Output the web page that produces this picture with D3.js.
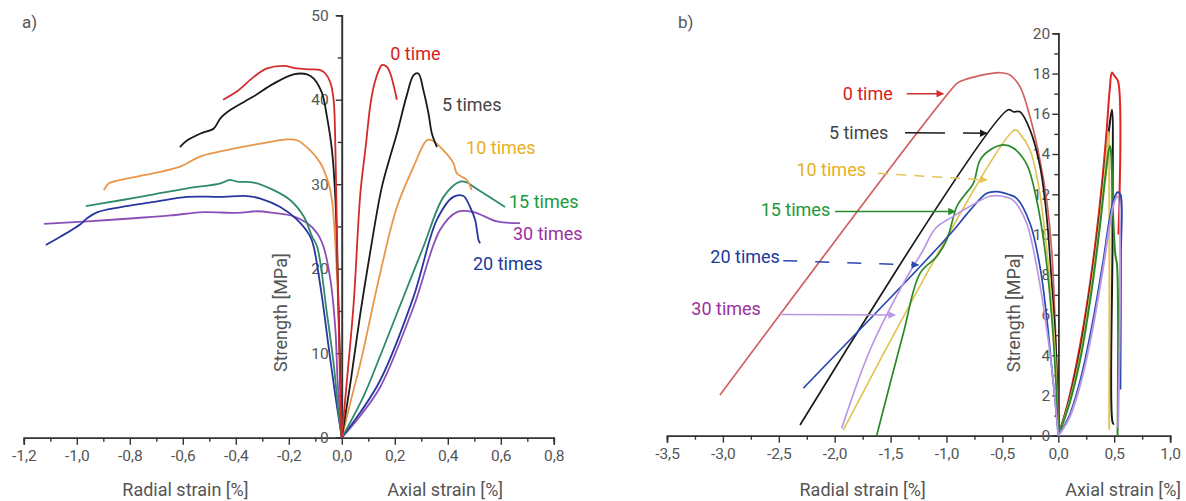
<!DOCTYPE html>
<html>
<head>
<meta charset="utf-8">
<script src="https://cdn.jsdelivr.net/npm/d3@7"></script>
<style>
  body { margin: 0; background: #fff; }
  text { font-family: Roboto, "Noto Sans", sans-serif; }
</style>
</head>
<body>
<div id="chart"></div>
<script>
// series names
const seriesNames = ["0 time", "5 times", "10 times", "15 times", "20 times", "30 times"];

// panel a: [strain %, strength MPa]
const aRad0 = [[-0.448,40.0],[-0.395,41.0],[-0.332,42.7],[-0.282,43.7],[-0.219,44.0],[-0.169,43.7],[-0.12,43.6],[-0.081,43.5],[-0.062,43.1],[-0.043,42.0],[-0.031,40.0],[-0.024,34.0],[-0.016,20],[-0.008,8],[0,0]];
const aAx0 = [[0,0],[0.02,7],[0.045,16],[0.07,28.9],[0.09,34.4],[0.107,39.2],[0.12,41.5],[0.14,43.5],[0.151,44.1],[0.17,43.9],[0.183,43.1],[0.208,40.0]];
const aRad5 = [[-0.611,34.4],[-0.583,35.2],[-0.533,36.0],[-0.483,36.6],[-0.458,37.8],[-0.42,38.8],[-0.332,40.4],[-0.257,41.9],[-0.182,43.0],[-0.131,43.0],[-0.106,42.5],[-0.075,40.8],[-0.056,38.0],[-0.037,34.0],[-0.024,28.1],[-0.013,16.3],[0,0]];
const aAx5 = [[0,0],[0.035,7],[0.07,14.7],[0.11,22.5],[0.15,29.5],[0.18,33],[0.208,36],[0.246,40.6],[0.271,42.9],[0.289,43.1],[0.308,41.1],[0.327,38.4],[0.34,36.0],[0.359,34.4]];
const aRad10 = [[-0.898,29.3],[-0.879,30.1],[-0.835,30.5],[-0.709,31.3],[-0.608,32.1],[-0.533,33.3],[-0.408,34.2],[-0.307,34.8],[-0.206,35.3],[-0.169,35.2],[-0.119,34.0],[-0.081,32.5],[-0.05,30.1],[-0.037,28.1],[-0.021,21],[-0.01,12.7],[0,0]];
const aAx10 = [[0,0],[0.035,4.5],[0.07,8.8],[0.145,19.5],[0.208,27.3],[0.271,32.1],[0.321,35.2],[0.34,35.2],[0.384,34.0],[0.421,32.5],[0.434,31.3],[0.472,30.5],[0.49,29.3]];
const aRad15 = [[-0.966,27.4],[-0.834,28.1],[-0.709,28.8],[-0.583,29.5],[-0.458,30.1],[-0.423,30.5],[-0.395,30.3],[-0.332,30.2],[-0.257,29.3],[-0.194,28.1],[-0.144,26.2],[-0.112,23.8],[-0.093,22.6],[-0.056,14.7],[-0.031,8.8],[-0.012,2.9],[0,0]];
const aAx15 = [[0,0],[0.082,4.9],[0.145,9.7],[0.208,14.7],[0.308,22.6],[0.384,28.5],[0.446,30.3],[0.472,30.2],[0.497,29.7],[0.547,28.7],[0.616,27.3]];
const aRad20 = [[-1.117,22.8],[-1.061,23.8],[-0.985,25.3],[-0.96,26.0],[-0.922,26.7],[-0.834,27.3],[-0.709,27.9],[-0.583,28.5],[-0.458,28.5],[-0.357,28.6],[-0.307,28.3],[-0.232,27.3],[-0.169,25.8],[-0.119,23.8],[-0.106,22.6],[-0.075,16.7],[-0.05,10.8],[-0.024,4.9],[0,0]];
const aAx20 = [[0,0],[0.07,3],[0.145,6.8],[0.271,16.7],[0.359,25.8],[0.421,28.5],[0.459,28.6],[0.484,27.3],[0.503,25.8],[0.516,23.4],[0.522,23.0]];
const aRad30 = [[-1.124,25.3],[-0.96,25.6],[-0.772,26.0],[-0.646,26.3],[-0.521,26.7],[-0.395,26.6],[-0.32,26.8],[-0.257,26.6],[-0.182,26.2],[-0.131,25.4],[-0.093,24.2],[-0.069,22.6],[-0.043,18.7],[-0.024,12.7],[-0.016,6.8],[0,0]];
const aAx30 = [[0,0],[0.07,2.6],[0.145,6.0],[0.271,15.5],[0.371,24.6],[0.434,26.7],[0.497,26.7],[0.585,25.6],[0.672,25.4]];

// panel b
const bRad0 = [[-3.026,2.02],[-0.909,17.5],[-0.88,17.6],[-0.73,17.86],[-0.521,18.04],[-0.432,17.93],[-0.343,17.35],[-0.253,15.85],[-0.164,13.7],[-0.104,11.7],[-0.059,9.2],[-0.03,5.9],[-0.009,2.6],[0,0]];
const bAx0 = [[0,0],[0.08,1.5],[0.164,3.6],[0.25,6.3],[0.33,9.5],[0.39,12.5],[0.43,15],[0.46,17.2],[0.48,18.05],[0.5,17.9],[0.535,17.6],[0.538,10]];
const bRad5 = [[-2.31,0.53],[-0.447,16.2],[-0.403,16.1],[-0.343,16.1],[-0.253,15.2],[-0.164,13.4],[-0.104,10.9],[-0.059,7.6],[-0.021,4.3],[0,0]];
const bAx5 = [[0,0],[0.1,1.8],[0.2,4.3],[0.3,7.8],[0.37,10.8],[0.42,13.5],[0.46,15.5],[0.48,16.2],[0.485,10],[0.49,0.6],[0.5,0.6]];
const bRad10 = [[-1.923,0.28],[-0.387,15.2],[-0.343,15.0],[-0.253,14.2],[-0.179,12.5],[-0.119,10.06],[-0.074,7.6],[-0.03,4.3],[0,0]];
const bAx10 = [[0,0],[0.1,1.7],[0.2,4.1],[0.3,7.6],[0.37,10.6],[0.42,13.3],[0.445,14.8],[0.45,15.1],[0.455,14.5],[0.455,0.3]];
const bRad15 = [[-1.625,0],[-1.386,5.09],[-1.237,8.07],[-1.088,8.9],[-0.998,9.73],[-0.909,11.38],[-0.85,11.88],[-0.76,12.54],[-0.7,13.7],[-0.611,14.2],[-0.492,14.45],[-0.403,14.3],[-0.283,13.5],[-0.193,11.7],[-0.119,9.2],[-0.059,5.9],[-0.021,2.6],[0,0]];
const bAx15 = [[0,0],[0.1,1.6],[0.2,3.9],[0.3,7.3],[0.37,10.3],[0.42,12.8],[0.46,14.4],[0.47,14.2],[0.49,11],[0.51,9],[0.525,8.5],[0.53,0]];
const bRad20 = [[-2.281,2.36],[-1.208,8.57],[-0.939,10.2],[-0.79,11.2],[-0.64,12.05],[-0.551,12.13],[-0.45,12.0],[-0.372,11.8],[-0.253,10.56],[-0.164,8.4],[-0.104,5.9],[-0.059,3.4],[-0.03,1.8],[0,0]];
const bAx20 = [[0,0],[0.1,1.0],[0.2,2.8],[0.3,5.4],[0.4,8.6],[0.46,10.8],[0.5,11.8],[0.53,12.1],[0.555,12.0],[0.56,9],[0.555,2.3]];
const bRad30 = [[-1.937,0.37],[-1.684,4.26],[-1.386,7.57],[-1.208,9.23],[-1.1,10.3],[-0.939,10.9],[-0.79,11.4],[-0.611,11.9],[-0.5,11.9],[-0.403,11.7],[-0.283,10.56],[-0.193,8.4],[-0.119,5.9],[-0.059,3.4],[-0.021,1.3],[0,0]];
const bAx30 = [[0,0],[0.1,0.9],[0.2,2.6],[0.3,5.1],[0.4,8.3],[0.46,10.5],[0.5,11.6],[0.53,11.9],[0.535,0.4]];

// ticks
const aXTicks = [-1.2, -1.0, -0.8, -0.6, -0.4, -0.2, 0, 0.2, 0.4, 0.6, 0.8];
const aYTicks = [0, 10, 20, 30, 40, 50];
const bXTicks = [-3.5, -3.0, -2.5, -2.0, -1.5, -1.0, -0.5, 0, 0.5, 1.0];
const bYTicks = [0, 2, 4, 6, 8, 10, 12, 14, 16, 18, 20];

const W = 1186, H = 501;
const svg = d3.select("#chart").append("svg")
  .attr("width", W).attr("height", H)
  .style("background", "#fff");

const fmt = d3.formatLocale({ decimal: ",", thousands: ".", grouping: [3], currency: ["", ""], minus: "-" }).format(".1f");

const textCol = "#555";
const axisCol = "#333";
const labelSize = "18px";

// colours
const aLineCol = ["#d42a2a", "#1a1a1a", "#e8964a", "#2e8a6a", "#2a36a0", "#8a50b8"];
const bRadCol = ["#d06060", "#1a1a1a", "#e2c455", "#2a8a2a", "#2a48b0", "#b898e4"];
const bAxCol = ["#e02424", "#1a1a1a", "#e2c455", "#2a8a2a", "#2a48b0", "#b898e4"];
const labelCol = ["#d62020", "#444", "#e8b020", "#1a9a3a", "#1a3a9a", "#9a30a0"];

function drawAxes(x, y, xTicks, yTicks, xMinor, yMinor, yPad) {
  const g = svg.append("g");
  const y0 = y(0), x0 = x(0);

  g.append("g").attr("transform", `translate(0,${y0})`)
    .call(d3.axisBottom(x).tickValues(xMinor).tickSize(4).tickFormat(""));
  g.append("g").attr("transform", `translate(0,${y0})`)
    .call(d3.axisBottom(x).tickValues(xTicks).tickSize(7).tickPadding(5).tickFormat(fmt));

  g.append("g").attr("transform", `translate(${x0},0)`)
    .call(d3.axisLeft(y).tickValues(yMinor).tickSize(4).tickFormat(""));
  g.append("g").attr("transform", `translate(${x0},0)`)
    .call(d3.axisLeft(y).tickValues(yTicks).tickSize(6).tickPadding(yPad).tickFormat(d3.format("d")));

  g.selectAll(".domain").attr("stroke", axisCol).attr("stroke-width", 1.6);
  g.selectAll(".tick line").attr("stroke", axisCol).attr("stroke-width", 1.4);
  g.selectAll(".tick text").attr("fill", textCol).style("font-size", "15.5px")
    .style("font-family", "Roboto, sans-serif");
  return g;
}

// ---------- panel a ----------
const xA = d3.scaleLinear().domain([-1.2, 0.8]).range([23.8, 553.8]);
const yA = d3.scaleLinear().domain([0, 50]).range([437.7, 15.2]);

const lineA = d3.line().x(d => xA(d[0])).y(d => yA(d[1])).curve(d3.curveCatmullRom.alpha(0.5));

drawAxes(xA, yA, aXTicks, aYTicks, d3.range(-11, 8, 2).map(d => d / 10), [5, 15, 25, 35, 45], 7);

const aRad = [aRad0, aRad5, aRad10, aRad15, aRad20, aRad30];
const aAx = [aAx0, aAx5, aAx10, aAx15, aAx20, aAx30];
[5, 4, 3, 2, 1, 0].forEach(i => {
  [aRad[i], aAx[i]].forEach(s => {
    svg.append("path").datum(s).attr("d", lineA)
      .attr("fill", "none").attr("stroke", aLineCol[i]).attr("stroke-width", 1.8);
  });
});

// labels next to the axial curves
const aLabelPos = [[0.183, 45.4], [0.378, 39.4], [0.469, 34.3], [0.631, 27.9], [0.495, 20.6], [0.646, 24.2]];
seriesNames.forEach((n, i) => {
  svg.append("text").attr("x", xA(aLabelPos[i][0])).attr("y", yA(aLabelPos[i][1]))
    .attr("dy", "0.35em").attr("fill", labelCol[i]).style("font-size", labelSize).text(n);
});

svg.append("text").attr("x", 22).attr("y", 22).attr("dy", "0.35em")
  .attr("fill", textCol).style("font-size", "17px").text("a)");
svg.append("text").attr("transform", `translate(${xA(-0.23)},${yA(14.8)}) rotate(-90)`)
  .attr("text-anchor", "middle").attr("dy", "0.35em").attr("fill", textCol)
  .style("font-size", labelSize).text("Strength [MPa]");
svg.append("text").attr("x", xA(-0.59)).attr("y", 490).attr("text-anchor", "middle")
  .attr("dy", "0.35em").attr("fill", textCol).style("font-size", labelSize).text("Radial strain [%]");
svg.append("text").attr("x", xA(0.39)).attr("y", 490).attr("text-anchor", "middle")
  .attr("dy", "0.35em").attr("fill", textCol).style("font-size", labelSize).text("Axial strain [%]");

// ---------- panel b ----------
const xB = d3.scaleLinear().domain([-3.5, 1.0]).range([667, 1170.1]);
const yB = d3.scaleLinear().domain([0, 20]).range([435.7, 33.3]);

const lineB = d3.line().x(d => xB(d[0])).y(d => yB(d[1])).curve(d3.curveCatmullRom.alpha(0.5));

drawAxes(xB, yB, bXTicks, bYTicks, [-3.25, -2.75, -2.25, -1.75, -1.25, -0.75, -0.25, 0.25, 0.75], d3.range(1, 20, 2), 2);

const bRad = [bRad0, bRad5, bRad10, bRad15, bRad20, bRad30];
const bAx = [bAx0, bAx5, bAx10, bAx15, bAx20, bAx30];
[0, 1, 2, 3, 4, 5].forEach(i => {
  svg.append("path").datum(bRad[i]).attr("d", lineB)
    .attr("fill", "none").attr("stroke", bRadCol[i]).attr("stroke-width", 1.7);
  svg.append("path").datum(bAx[i]).attr("d", lineB)
    .attr("fill", "none").attr("stroke", bAxCol[i]).attr("stroke-width", 2);
});

// arrows with labels
const defs = svg.append("defs");
bRadCol.forEach((c, i) => {
  defs.append("marker").attr("id", "arr" + i)
    .attr("viewBox", "0 0 10 10").attr("refX", 9).attr("refY", 5)
    .attr("markerWidth", 7).attr("markerHeight", 5).attr("orient", "auto")
    .append("path").attr("d", "M0,0 L10,5 L0,10 z").attr("fill", i === 0 ? "#d03030" : c);
});
const bLabelPos = [[-1.48, 16.98], [-1.52, 15.06], [-1.72, 13.2], [-2.04, 11.25], [-2.49, 8.9], [-2.66, 6.33]];
const bArrows = [
  [[-1.356, 17.0], [-1.029, 17.0]],
  [[-1.371, 15.06], [-0.64, 15.03]],
  [[-1.61, 13.04], [-0.64, 12.71]],
  [[-1.998, 11.14], [-0.924, 11.14]],
  [[-2.46, 8.7], [-1.252, 8.48]],
  [[-2.474, 6.03], [-1.46, 6.0]]
];
const bDash = [null, "40,18", "10,8", null, "14,18", null];
seriesNames.forEach((n, i) => {
  svg.append("text").attr("x", xB(bLabelPos[i][0])).attr("y", yB(bLabelPos[i][1]))
    .attr("text-anchor", "end").attr("dy", "0.35em").attr("fill", labelCol[i])
    .style("font-size", labelSize).text(n);
  svg.append("path").datum(bArrows[i]).attr("d", d3.line().x(d => xB(d[0])).y(d => yB(d[1])))
    .attr("fill", "none").attr("stroke", i === 0 ? "#d03030" : bRadCol[i]).attr("stroke-width", 1.5)
    .attr("stroke-dasharray", bDash[i]).attr("marker-end", `url(#arr${i})`);
});

svg.append("text").attr("x", 678).attr("y", 22).attr("dy", "0.35em")
  .attr("fill", textCol).style("font-size", "17px").text("b)");
svg.append("text").attr("transform", `translate(${xB(-0.4)},${yB(6.1)}) rotate(-90)`)
  .attr("text-anchor", "middle").attr("dy", "0.35em").attr("fill", textCol)
  .style("font-size", labelSize).text("Strength [MPa]");
svg.append("text").attr("x", xB(-1.75)).attr("y", 490).attr("text-anchor", "middle")
  .attr("dy", "0.35em").attr("fill", textCol).style("font-size", labelSize).text("Radial strain [%]");
svg.append("text").attr("x", xB(0.58)).attr("y", 490).attr("text-anchor", "middle")
  .attr("dy", "0.35em").attr("fill", textCol).style("font-size", labelSize).text("Axial strain [%]");
</script>
</body>
</html>
